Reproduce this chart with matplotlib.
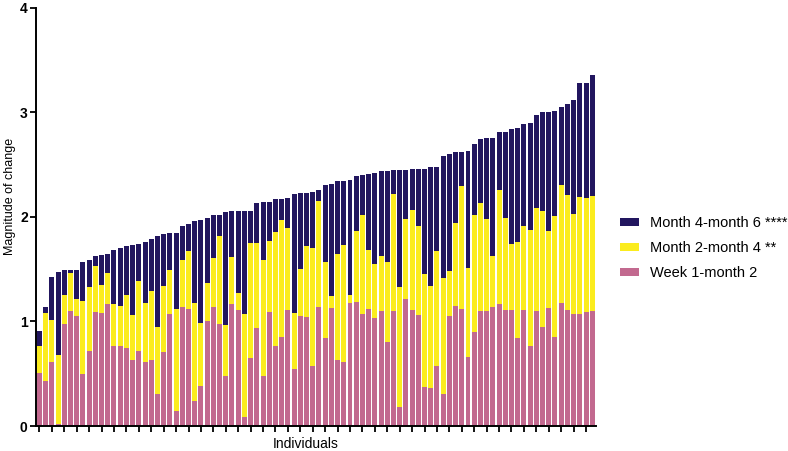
import numpy as np
import matplotlib
matplotlib.use('Agg')
import matplotlib.pyplot as plt

plt.rcParams['font.family'] = ['Liberation Sans', 'DejaVu Sans']

# segment values per individual (sorted by total change)
week1_month2 = [0.51, 0.43, 0.61, 0.02, 0.98, 1.10, 1.05, 0.50, 0.72, 1.09,
                1.08, 1.17, 0.77, 0.77, 0.75, 0.63, 0.72, 0.61, 0.63, 0.31,
                0.71, 1.07, 0.14, 1.14, 1.12, 0.24, 0.38, 1.00, 1.14, 0.98,
                0.48, 1.17, 1.11, 0.09, 0.65, 0.94, 0.48, 1.09, 0.77, 0.85,
                1.11, 0.55, 1.05, 1.04, 0.57, 1.14, 0.84, 1.13, 0.63, 0.61,
                1.18, 1.19, 1.07, 1.12, 1.03, 1.10, 0.80, 1.10, 0.18, 1.22,
                1.11, 1.06, 0.37, 0.36, 0.57, 0.31, 1.05, 1.15, 1.12, 0.66,
                0.90, 1.10, 1.10, 1.14, 1.17, 1.11, 1.11, 0.84, 1.11, 0.77,
                1.10, 0.95, 1.13, 0.85, 1.18, 1.11, 1.07, 1.07, 1.09, 1.10]

month2_month4 = [0.26, 0.65, 0.40, 0.66, 0.27, 0.36, 0.17, 0.70, 0.61, 0.44,
                 0.27, 0.29, 0.40, 0.38, 0.50, 0.43, 0.67, 0.57, 0.66, 0.64,
                 0.63, 0.42, 0.98, 0.45, 0.55, 0.94, 0.61, 0.37, 0.47, 0.84,
                 0.49, 0.45, 0.16, 0.98, 1.10, 0.81, 1.11, 0.68, 1.09, 1.12,
                 0.78, 0.53, 0.45, 0.68, 1.13, 1.01, 0.73, 0.11, 1.02, 1.12,
                 0.07, 0.68, 0.95, 0.56, 0.52, 0.53, 0.77, 1.12, 1.15, 0.76,
                 0.96, 0.85, 1.08, 0.98, 1.10, 1.11, 0.43, 0.79, 1.18, 0.85,
                 1.12, 1.03, 0.88, 0.49, 1.09, 0.88, 0.63, 0.92, 0.80, 1.11,
                 0.99, 1.11, 0.74, 1.16, 1.13, 1.10, 0.96, 1.12, 1.09, 1.10]

month4_month6 = [0.14, 0.06, 0.42, 0.79, 0.24, 0.03, 0.27, 0.37, 0.26, 0.10,
                 0.29, 0.19, 0.51, 0.55, 0.47, 0.67, 0.35, 0.58, 0.50, 0.87,
                 0.50, 0.36, 0.73, 0.32, 0.26, 0.78, 0.98, 0.62, 0.41, 0.20,
                 1.08, 0.44, 0.79, 0.99, 0.31, 0.38, 0.55, 0.37, 0.31, 0.20,
                 0.29, 1.14, 0.73, 0.51, 0.54, 0.11, 0.74, 1.08, 0.69, 0.61,
                 1.10, 0.52, 0.38, 0.73, 0.87, 0.81, 0.87, 0.23, 1.12, 0.47,
                 0.39, 0.55, 1.01, 1.14, 0.81, 1.16, 1.12, 0.68, 0.32, 1.12,
                 0.68, 0.62, 0.78, 1.13, 0.55, 0.82, 1.10, 1.09, 0.98, 1.02,
                 0.89, 0.94, 1.13, 1.00, 0.74, 0.87, 1.09, 1.09, 1.10, 1.16]

labels = ['Month 4-month 6 ****', 'Month 2-month 4 **', 'Week 1-month 2']
colors = ['#22165f', '#fbec1e', '#c2698f']

x = np.arange(len(week1_month2))
p = np.array(week1_month2)
y = np.array(month2_month4)
n = np.array(month4_month6)

fig = plt.figure(figsize=(7.88, 4.51), dpi=100)
ax = fig.add_axes([0.0457, 0.0554, 0.711, 0.927])

b3 = ax.bar(x, p, width=0.8, color=colors[2], label=labels[2])
b2 = ax.bar(x, y, width=0.8, bottom=p, color=colors[1], label=labels[1])
b1 = ax.bar(x, n, width=0.8, bottom=p + y, color=colors[0], label=labels[0])

ax.set_xlim(-0.55, len(x) - 0.35)
ax.set_ylim(0, 4)
ax.set_yticks([0, 1, 2, 3, 4])
ax.set_xticks(x[::2])
ax.set_xticklabels([])
for lab in ax.get_yticklabels():
    lab.set_fontweight('bold')
    lab.set_fontsize(10)
ax.tick_params(axis='both', width=1.3, length=4, direction='out')
ax.tick_params(axis='y', pad=2)

for s in ['top', 'right']:
    ax.spines[s].set_visible(False)
for s in ['left', 'bottom']:
    ax.spines[s].set_linewidth(1.4)

ax.set_ylabel('Magnitude of change', fontsize=9)
ax.yaxis.set_label_coords(-0.036, 0.548)
ax.set_xlabel('Individuals', fontsize=10)
ax.xaxis.set_label_coords(0.482, -0.026)

fig.legend(handles=[b1, b2, b3], labels=labels, loc='upper left',
           bbox_to_anchor=(0.787, 0.520), frameon=False, fontsize=10.5,
           borderpad=0, borderaxespad=0, handlelength=1.3, handleheight=0.5,
           handletextpad=0.75, labelspacing=0.74)

fig.savefig('out.png', dpi=100)
